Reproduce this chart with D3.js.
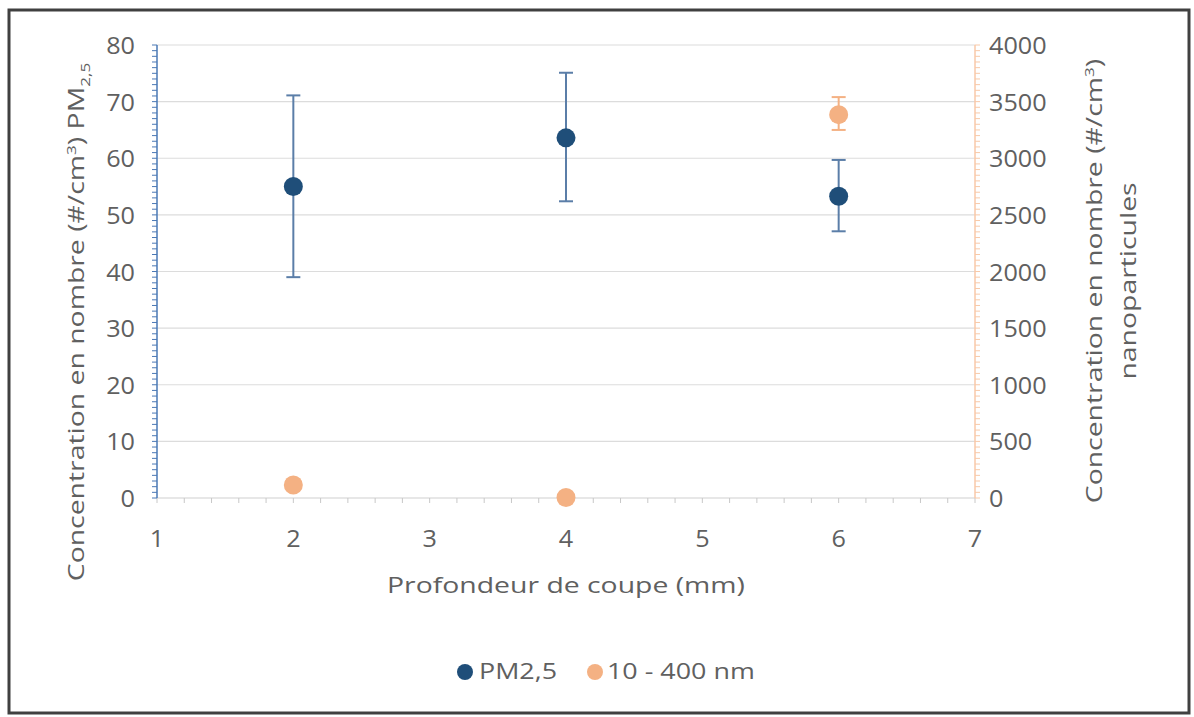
<!DOCTYPE html>
<html><head><meta charset="utf-8">
<script src="https://cdn.jsdelivr.net/npm/d3@7"></script>
<style>body{margin:0;background:#fff}svg{display:block}text{font-family:"Open Sans",sans-serif;fill:#606060}</style>
</head><body><svg id="c" width="1194" height="717"></svg>
<script>
const depths = [2, 4, 6];
const pm25 = [55.0, 63.6, 53.3];
const pm25Low = [39.0, 52.4, 47.1];
const pm25High = [71.1, 75.1, 59.7];
const nano = [115, 5, 3385];
const nanoLow = [null, null, 3250];
const nanoHigh = [null, null, 3540];
const xTicks = [1, 2, 3, 4, 5, 6, 7];
const yLeftTicks = [0, 10, 20, 30, 40, 50, 60, 70, 80];
const yRightTicks = [0, 500, 1000, 1500, 2000, 2500, 3000, 3500, 4000];
const seriesNames = ["PM2,5", "10 - 400 nm"];

const blue = "#1f4e79", orange = "#f4b183";
const svg = d3.select("#c");
const L = 157, R = 975, T = 45, B = 498;
const x = d3.scaleLinear().domain([1, 7]).range([L, R]);
const yl = d3.scaleLinear().domain([0, 80]).range([B, T]);
const yr = d3.scaleLinear().domain([0, 4000]).range([B, T]);

function txt(g, px, py, s, opts) {
  const o = Object.assign({rot: 0, size: 21, sx: 1.32, anchor: "start"}, opts || {});
  return g.append("text")
    .attr("transform", `translate(${px},${py}) rotate(${o.rot}) scale(${o.sx},1)`)
    .attr("text-anchor", o.anchor).attr("font-size", o.size).text(s);
}

// frame
svg.append("rect").attr("x", 9).attr("y", 10).attr("width", 1180).attr("height", 703)
  .attr("fill", "#fff").attr("stroke", "#404040").attr("stroke-width", 3);

// grid
svg.append("g").selectAll("line").data(yLeftTicks.filter(d => d > 0)).join("line")
  .attr("x1", L).attr("x2", R).attr("y1", d => yl(d)).attr("y2", d => yl(d))
  .attr("stroke", "#dcdcdc").attr("stroke-width", 1.2);

// x axis
const xMinor = d3.range(1, 7.001, 0.2);
svg.append("line").attr("x1", L).attr("x2", R).attr("y1", B).attr("y2", B).attr("stroke", "#d0d0d0").attr("stroke-width", 1.2);
svg.append("g").selectAll("line").data(xMinor).join("line")
  .attr("x1", d => x(d)).attr("x2", d => x(d)).attr("y1", B).attr("y2", B + 5)
  .attr("stroke", "#c8c8c8").attr("stroke-width", 1);
const gx = svg.append("g");
xTicks.forEach(d => txt(gx, x(d), 547, d, {size: 24, sx: 1.05, anchor: "middle"}));

// left axis
const yMinorL = d3.range(0, 80.001, 1);
svg.append("line").attr("x1", L).attr("x2", L).attr("y1", T).attr("y2", B).attr("stroke", "#4a78b5").attr("stroke-width", 1.5);
svg.append("g").selectAll("line").data(yMinorL).join("line")
  .attr("x1", L - 5).attr("x2", L).attr("y1", d => yl(d)).attr("y2", d => yl(d))
  .attr("stroke", "#4a78b5").attr("stroke-width", 1);
const gl = svg.append("g");
yLeftTicks.forEach(d => txt(gl, 135, yl(d) + 9, d, {size: 24, sx: 1.05, anchor: "end"}));

// right axis
const yMinorR = d3.range(0, 4000.001, 50);
svg.append("line").attr("x1", R).attr("x2", R).attr("y1", T).attr("y2", B).attr("stroke", "#f8c9a8").attr("stroke-width", 1.5);
svg.append("g").selectAll("line").data(yMinorR).join("line")
  .attr("x1", R).attr("x2", R + 5).attr("y1", d => yr(d)).attr("y2", d => yr(d))
  .attr("stroke", "#f8c9a8").attr("stroke-width", 1);
const gr = svg.append("g");
yRightTicks.forEach(d => txt(gr, 989, yr(d) + 9, d, {size: 24, sx: 1.05, anchor: "start"}));

// axis titles
const lt = txt(svg, 84, 322, "", {rot: -90, size: 21.5, anchor: "middle"});
lt.append("tspan").text("Concentration en nombre (#/cm");
lt.append("tspan").attr("dy", -8).attr("font-size", 13).text("3");
lt.append("tspan").attr("dy", 8).text(") PM");
lt.append("tspan").attr("dy", 6).attr("font-size", 13).text("2,5");

const rt = txt(svg, 1102, 281, "", {rot: -90, size: 21.5, anchor: "middle"});
rt.append("tspan").text("Concentration en nombre (#/cm");
rt.append("tspan").attr("dy", -8).attr("font-size", 13).text("3");
rt.append("tspan").attr("dy", 8).text(")");
txt(svg, 1136, 281, "nanoparticules", {rot: -90, size: 21.5, anchor: "middle"});

txt(svg, 566, 593, "Profondeur de coupe (mm)", {size: 21.5, anchor: "middle"});

// error bars
const eb = svg.append("g").attr("stroke", "#5b7ea8").attr("stroke-width", 2);
depths.forEach((d, i) => {
  eb.append("line").attr("x1", x(d)).attr("x2", x(d)).attr("y1", yl(pm25Low[i])).attr("y2", yl(pm25High[i]));
  eb.append("line").attr("x1", x(d) - 7).attr("x2", x(d) + 7).attr("y1", yl(pm25Low[i])).attr("y2", yl(pm25Low[i]));
  eb.append("line").attr("x1", x(d) - 7).attr("x2", x(d) + 7).attr("y1", yl(pm25High[i])).attr("y2", yl(pm25High[i]));
});
const eo = svg.append("g").attr("stroke", "#f4b183").attr("stroke-width", 2);
depths.forEach((d, i) => {
  if (nanoLow[i] == null) return;
  eo.append("line").attr("x1", x(d)).attr("x2", x(d)).attr("y1", yr(nanoLow[i])).attr("y2", yr(nanoHigh[i]));
  eo.append("line").attr("x1", x(d) - 7).attr("x2", x(d) + 7).attr("y1", yr(nanoLow[i])).attr("y2", yr(nanoLow[i]));
  eo.append("line").attr("x1", x(d) - 7).attr("x2", x(d) + 7).attr("y1", yr(nanoHigh[i])).attr("y2", yr(nanoHigh[i]));
});

svg.append("g").selectAll("circle").data(depths).join("circle")
  .attr("cx", d => x(d)).attr("cy", (d, i) => yl(pm25[i])).attr("r", 9.5).attr("fill", blue);
svg.append("g").selectAll("circle").data(depths).join("circle")
  .attr("cx", d => x(d)).attr("cy", (d, i) => yr(nano[i])).attr("r", 9.5).attr("fill", orange);

// legend
const lg = svg.append("g");
lg.append("circle").attr("cx", 465).attr("cy", 672).attr("r", 8).attr("fill", blue);
txt(lg, 479, 679, seriesNames[0], {size: 21, sx: 1.28});
lg.append("circle").attr("cx", 595).attr("cy", 672).attr("r", 8).attr("fill", orange);
txt(lg, 607, 679, seriesNames[1], {size: 21, sx: 1.28});
</script></body></html>
